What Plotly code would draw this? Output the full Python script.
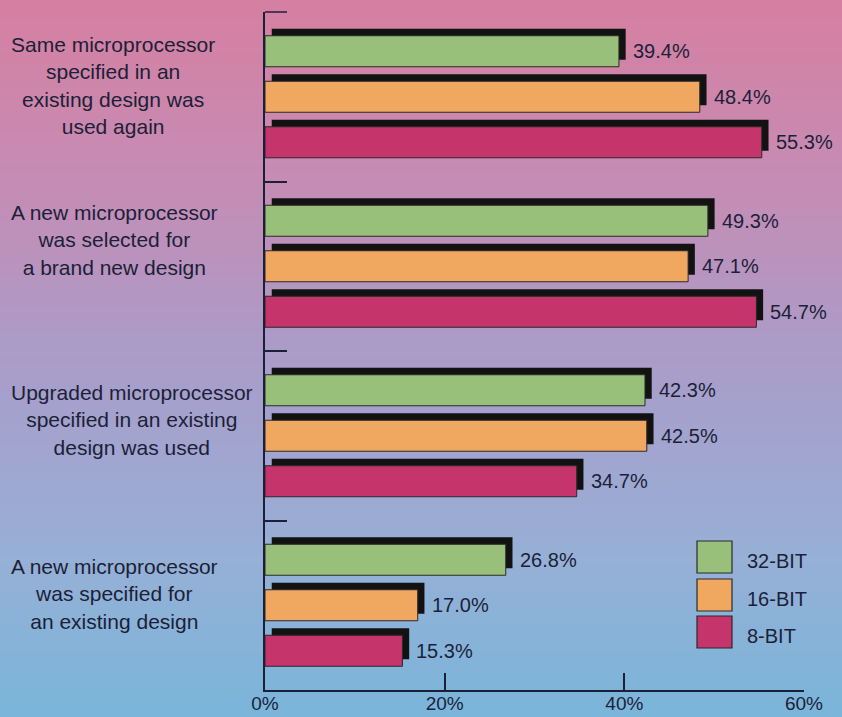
import plotly.graph_objects as go

# ---- data -------------------------------------------------------------
categories = [
    "Same microprocessor<br>specified in an<br>existing design was<br>used again",
    "A new microprocessor<br>was selected for<br>a brand new design",
    "Upgraded microprocessor<br>specified in an existing<br>design was used",
    "A new microprocessor<br>was specified for<br>an existing design",
]
series_names = ["32-BIT", "16-BIT", "8-BIT"]
values_32bit = [39.4, 49.3, 42.3, 26.8]
values_16bit = [48.4, 47.1, 42.5, 17.0]
values_8bit = [55.3, 54.7, 34.7, 15.3]
x_tick_values = [0, 20, 40, 60]
x_tick_labels = ["0%", "20%", "40%", "60%"]

series_values = [values_32bit, values_16bit, values_8bit]
series_colors = ["#98c07a", "#f0a860", "#c5346a"]

# ---- geometry ---------------------------------------------------------
W, H = 842, 717
ML, MR, MT, MB = 265, 38, 12, 27
PW, PH = W - ML - MR, H - MT - MB
FONT = "Liberation Sans, Arial, sans-serif"
INK = "#1c1f38"


def px_x(px):
    return (px - ML) / PW


def px_y(py):
    return (H - MB - py) / PH


band_px = PH / len(categories)
bar_w = 31 / band_px            # bar thickness in category units
pitch = 45.5 / band_px          # distance between bars inside a group
centers = [-pitch, 0.0, pitch]  # green on top, crimson at bottom
shadow_dy = -7 / band_px        # shadow sits 7px higher
shadow_dx = 0.75                # and ~7px to the right (in % units)

fig = go.Figure()

# drop shadows
for vals, c in zip(series_values, centers):
    fig.add_trace(go.Bar(
        y=categories, x=vals, orientation="h", base=shadow_dx,
        width=bar_w, offset=c - bar_w / 2 + shadow_dy,
        marker=dict(color="#121212", line=dict(width=0)),
        showlegend=False, hoverinfo="skip",
    ))

# bars
for name, vals, col, c in zip(series_names, series_values, series_colors, centers):
    fig.add_trace(go.Bar(
        y=categories, x=vals, orientation="h", name=name,
        width=bar_w, offset=c - bar_w / 2,
        marker=dict(color=col, line=dict(color="#2a2a2a", width=1)),
        showlegend=False,
    ))

annotations = []
# value labels
for vals, c in zip(series_values, centers):
    for i, v in enumerate(vals):
        annotations.append(dict(
            x=v, y=i + c, xref="x", yref="y", text=f"{v:.1f}%",
            showarrow=False, xanchor="left", yanchor="middle", xshift=12,
            font=dict(family=FONT, size=20, color=INK),
        ))

# category labels (centred multi-line blocks)
label_shift = [11, 26, 16, 11]
for i, (cat, s) in enumerate(zip(categories, label_shift)):
    annotations.append(dict(
        x=px_x(9), y=i, xref="paper", yref="y", text=cat,
        showarrow=False, xanchor="left", yanchor="middle", align="center",
        yshift=s, font=dict(family=FONT, size=21, color=INK),
    ))

shapes = []
# vertical background gradient: pink -> lavender -> blue
stops = [
    (0.00, (214, 127, 161)),
    (0.25, (198, 140, 180)),
    (0.50, (170, 156, 201)),
    (0.78, (150, 176, 214)),
    (1.00, (122, 181, 218)),
]


def grad(t):
    for (t0, c0), (t1, c1) in zip(stops, stops[1:]):
        if t <= t1:
            f = (t - t0) / (t1 - t0)
            return tuple(round(a + (b - a) * f) for a, b in zip(c0, c1))
    return stops[-1][1]


step = 4
for y0 in range(0, H, step):
    r, g, b = grad((y0 + step / 2) / H)
    shapes.append(dict(
        type="rect", xref="paper", yref="paper", layer="below",
        x0=px_x(-2), x1=px_x(W + 2), y0=px_y(y0 + step + 0.5), y1=px_y(y0),
        fillcolor=f"rgb({r},{g},{b})", line=dict(width=0),
    ))

# tick at the top end of the category axis
shapes.append(dict(
    type="line", xref="paper", yref="paper",
    x0=0, x1=px_x(ML + 22), y0=1, y1=1,
    line=dict(color=INK, width=1.5),
))

# legend swatches
legend_top = [541, 579, 616]
for name, col, top in zip(series_names, series_colors, legend_top):
    shapes.append(dict(
        type="rect", xref="paper", yref="paper",
        x0=px_x(697), x1=px_x(732), y0=px_y(top + 32), y1=px_y(top),
        fillcolor=col, line=dict(color="#2a2a2a", width=1.2),
    ))
    annotations.append(dict(
        x=px_x(745), y=px_y(top + 20), xref="paper", yref="paper",
        text=name, showarrow=False, xanchor="left", yanchor="middle",
        font=dict(family=FONT, size=20, color=INK),
    ))

fig.update_layout(
    width=W, height=H,
    margin=dict(l=ML, r=MR, t=MT, b=MB, pad=0, autoexpand=False),
    paper_bgcolor="rgba(0,0,0,0)", plot_bgcolor="rgba(0,0,0,0)",
    barmode="overlay", showlegend=False,
    shapes=shapes, annotations=annotations,
    font=dict(family=FONT, size=20, color=INK),
    xaxis=dict(
        range=[0, 60], tickvals=x_tick_values, ticktext=x_tick_labels,
        showgrid=False, zeroline=False, showline=True, linecolor=INK,
        linewidth=1.5, ticks="inside", ticklen=17, tickwidth=1.5,
        tickcolor=INK, tickfont=dict(family=FONT, size=19, color=INK),
        ticklabelstandoff=-5, automargin=False, fixedrange=True,
    ),
    yaxis=dict(
        type="category", categoryorder="array", categoryarray=categories,
        range=[len(categories) - 0.5, -0.5], tickson="boundaries",
        showticklabels=False, showgrid=False, zeroline=False,
        showline=True, linecolor=INK, linewidth=1.5,
        ticks="inside", ticklen=22, tickwidth=1.5, tickcolor=INK,
        automargin=False, fixedrange=True,
    ),
)

fig.write_html("out.html", config={"displayModeBar": False})
